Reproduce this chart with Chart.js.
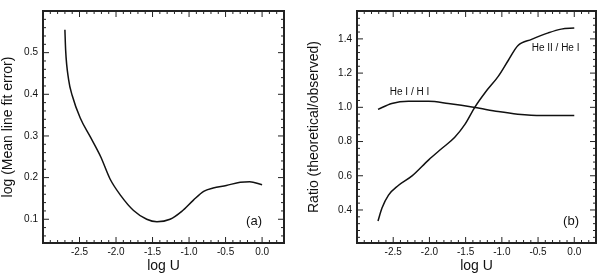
<!DOCTYPE html>
<html>
<head>
<meta charset="utf-8">
<script src="https://cdn.jsdelivr.net/npm/chart.js@4/dist/chart.umd.min.js"></script>
<style>
  html, body { margin: 0; padding: 0; background: #fff; }
  #wrap { position: relative; width: 600px; height: 276px; }
  canvas { position: absolute; top: 0; }
  #panelA { left: 0; }
  #panelB { left: 300px; }
</style>
</head>
<body>
<div id="wrap">
  <canvas id="panelA" width="300" height="276"></canvas>
  <canvas id="panelB" width="300" height="276"></canvas>
</div>
<script>
// panel (a): mean line fit error vs log U
const aLogU = [-2.70, -2.69, -2.65, -2.60, -2.49, -2.35, -2.21, -2.08, -1.94, -1.76, -1.58, -1.44, -1.26, -1.10, -0.94, -0.80, -0.67, -0.49, -0.30, -0.17, 0.0];
const aErr  = [0.555, 0.506, 0.436, 0.397, 0.343, 0.297, 0.250, 0.196, 0.158, 0.121, 0.100, 0.094, 0.100, 0.119, 0.146, 0.167, 0.175, 0.181, 0.189, 0.190, 0.183];

// panel (b): ratios theoretical/observed
const heIILogU = [-2.71, -2.655, -2.565, -2.43, -2.24, -2.01, -1.83, -1.65, -1.51, -1.37, -1.23, -1.05, -0.91, -0.78, -0.59, -0.36, -0.18, 0.0];
const heIIRatio = [0.336, 0.411, 0.487, 0.543, 0.599, 0.693, 0.759, 0.825, 0.900, 1.003, 1.087, 1.181, 1.275, 1.360, 1.397, 1.435, 1.457, 1.463];
const heILogU = [-2.71, -2.52, -2.29, -2.01, -1.74, -1.37, -1.05, -0.78, -0.45, 0.0];
const heIRatio = [0.988, 1.022, 1.035, 1.035, 1.022, 0.999, 0.975, 0.960, 0.952, 0.952];

// tick labels
const xTicks = [-2.5, -2.0, -1.5, -1.0, -0.5, 0.0];
const aYTicks = [0.1, 0.2, 0.3, 0.4, 0.5];
const bYTicks = [0.4, 0.6, 0.8, 1.0, 1.2, 1.4];

const FONT = "'Liberation Sans', Arial, sans-serif";
const pairs = (xs, ys) => xs.map((x, i) => ({ x: x, y: ys[i] }));

// frame + inward ticks on all four sides, plus text notes in data coords
const frameTicks = {
  id: 'frameTicks',
  afterDraw(chart, args, opts) {
    const { ctx, chartArea: a, scales: { x, y } } = chart;
    ctx.save();
    ctx.strokeStyle = '#222';
    ctx.lineWidth = 1;
    const marks = (scale, step, majors) => {
      const out = [];
      const n0 = Math.ceil(scale.min / step - 1e-6), n1 = Math.floor(scale.max / step + 1e-6);
      for (let n = n0; n <= n1; n++) {
        const v = n * step;
        const major = majors.some(m => Math.abs(m - v) < step / 10);
        out.push([scale.getPixelForValue(v), major ? 6 : 3]);
      }
      return out;
    };
    ctx.beginPath();
    marks(x, opts.xMinor, opts.xMajor).forEach(([p, len]) => {
      ctx.moveTo(p, a.bottom); ctx.lineTo(p, a.bottom - len);
      ctx.moveTo(p, a.top); ctx.lineTo(p, a.top + len);
    });
    marks(y, opts.yMinor, opts.yMajor).forEach(([p, len]) => {
      ctx.moveTo(a.left, p); ctx.lineTo(a.left + len, p);
      ctx.moveTo(a.right, p); ctx.lineTo(a.right - len, p);
    });
    ctx.stroke();
    ctx.lineWidth = 2;
    ctx.strokeRect(a.left, a.top, a.right - a.left, a.bottom - a.top);

    ctx.fillStyle = '#111';
    ctx.textAlign = 'center';
    ctx.textBaseline = 'middle';
    (opts.notes || []).forEach(n => {
      ctx.font = n.size + 'px ' + FONT;
      ctx.fillText(n.text, x.getPixelForValue(n.x), y.getPixelForValue(n.y));
    });
    ctx.restore();
  }
};

function makeChart(id, datasets, yMin, yMax, yTicks, yTitle, yWidth, padRight, titlePad, plugOpts) {
  return new Chart(document.getElementById(id), {
    type: 'line',
    data: { datasets: datasets },
    options: {
      responsive: false,
      animation: false,
      devicePixelRatio: 1,
      layout: { padding: { top: 2, right: padRight, left: 0, bottom: 0 } },
      plugins: { legend: { display: false }, tooltip: { enabled: false }, frameTicks: plugOpts },
      elements: { point: { radius: 0 }, line: { borderWidth: 1.5, borderColor: '#111', cubicInterpolationMode: 'monotone' } },
      scales: {
        x: {
          type: 'linear', min: -3.0, max: 0.3,
          grid: { display: false, drawTicks: false, tickLength: 0 },
          border: { display: false },
          afterBuildTicks: s => { s.ticks = xTicks.map(v => ({ value: v })); },
          afterFit: s => { s.height = 33; },
          ticks: { padding: 3, color: '#111', font: { family: FONT, size: 10 }, maxRotation: 0, callback: v => v.toFixed(1) },
          title: { display: true, text: 'log U', color: '#111', font: { family: FONT, size: 14 }, padding: { top: 0, bottom: 1 } }
        },
        y: {
          type: 'linear', min: yMin, max: yMax,
          grid: { display: false, drawTicks: false, tickLength: 0 },
          border: { display: false },
          afterBuildTicks: s => { s.ticks = yTicks.map(v => ({ value: v })); },
          afterFit: s => { s.width = yWidth; },
          ticks: { padding: 5, color: '#111', font: { family: FONT, size: 10 }, callback: v => v.toFixed(1) },
          title: { display: true, text: yTitle, color: '#111', font: { family: FONT, size: 14 }, padding: { top: titlePad, bottom: 0 } }
        }
      }
    },
    plugins: [frameTicks]
  });
}

makeChart('panelA',
  [{ data: pairs(aLogU, aErr) }],
  0.043, 0.6, aYTicks, 'log (Mean line fit error)', 43, 16, 0,
  { xMinor: 0.1, xMajor: xTicks, yMinor: 0.02, yMajor: aYTicks,
    notes: [{ text: '(a)', x: -0.11, y: 0.096, size: 13 }] });

makeChart('panelB',
  [{ data: pairs(heIILogU, heIIRatio) }, { data: pairs(heILogU, heIRatio) }],
  0.207, 1.563, bYTicks, 'Ratio (theoretical/observed)', 57, 4, 6,
  { xMinor: 0.1, xMajor: xTicks, yMinor: 0.04, yMajor: bYTicks,
    notes: [{ text: 'He I / H I', x: -2.275, y: 1.087, size: 10 },
            { text: 'He II / He I', x: -0.258, y: 1.346, size: 10 },
            { text: '(b)', x: -0.045, y: 0.336, size: 13 }] });
</script>
</body>
</html>
